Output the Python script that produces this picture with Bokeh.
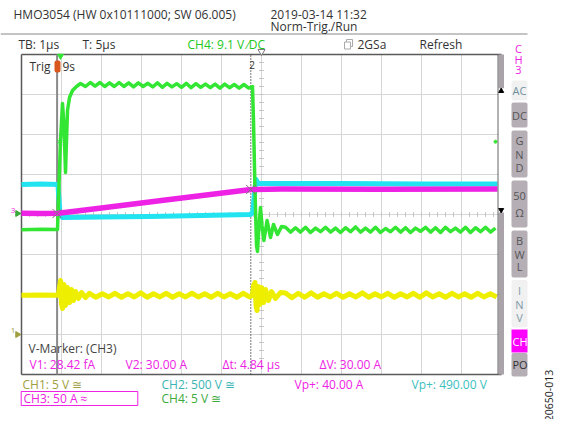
import numpy as np
from bokeh.plotting import figure
from bokeh.models import Range1d, Label
from bokeh.embed import file_html
from bokeh.resources import INLINE

FONT = "Open Sans"
FS = 12

# ---------------- scope settings ----------------
TIME_PER_DIV = 1.0                 # µs/div  (TB: 1µs)
CH1_SCALE, CH1_GND = 5.0, -3.0     # V/div, ground position [div]
CH2_SCALE, CH2_GND = 500.0, -0.1   # V/div
CH3_SCALE, CH3_GND = 50.0, 0.025   # A/div
CH4_SCALE, CH4_GND = 5.0, 0.0      # V/div
CH4_TRIG_LEVEL = 9.1               # V
CURSOR1_T, CURSOR2_T = -0.11, 4.73 # µs
V1_A, V2_A = 0.0, 30.0             # A

# ---------------- CH1 (yellow, V) ----------------
ch1_pre_t = [-1.0, -0.5, -0.08]
ch1_pre_v = [4.9, 4.95, 4.9]
ch1_spk1_t = [-0.05, -0.025, 0.0, 0.025, 0.0625, 0.1, 0.15, 0.2, 0.25, 0.3, 0.35, 0.425, 0.5, 0.6]
ch1_spk1_v = [5.875, 6.75, 3.875, 3.25, 6.25, 3.625, 5.875, 4.0, 5.625, 4.25, 5.375, 4.5, 5.25, 4.625]
ch1_ripA_t0, ch1_rip_dt = 0.7, 0.16
ch1_ripA_v = [5.15, 4.65, 5.1, 4.7, 5.15, 4.65, 5.1, 4.7, 5.2, 4.65,
              5.1, 4.7, 5.15, 4.65, 5.1, 4.7, 5.15, 4.7, 5.1, 4.65,
              5.15, 4.7, 5.1, 4.65, 5.15, 4.7]
ch1_spk2_t = [4.775, 4.8, 4.8375, 4.8625, 4.8875, 4.925, 4.9625, 5.0, 5.05, 5.1, 5.175, 5.25, 5.35, 5.475]
ch1_spk2_v = [4.9, 6.125, 6.5, 3.625, 3.0, 6.0, 3.75, 5.875, 4.0, 5.625, 4.25, 5.375, 4.5, 5.25]
ch1_ripB_t0 = 5.6
ch1_ripB_v = [5.2, 4.6, 5.15, 4.65, 5.2, 4.65, 5.1, 4.7, 5.15, 4.65,
              5.1, 4.7, 5.2, 4.65, 5.1, 4.7, 5.15, 4.65, 5.1, 4.7,
              5.15, 4.65, 5.2, 4.7, 5.1, 4.65, 5.15, 4.7, 5.1, 4.65,
              5.15, 4.7, 5.1, 4.7]

# ---------------- CH2 (cyan, V) ----------------
ch2_t = [-1.0, -0.5, -0.09, -0.06, -0.04, 0.025, 1.0, 2.2, 3.5, 4.72, 4.78, 4.82, 4.86, 4.92, 5.2, 7.0, 9.0, 10.9]
ch2_v = [425, 431, 425, 225, 50, 12, 19, 25, 38, 50, 75, 288, 488, 438, 438, 438, 431, 431]

# ---------------- CH3 (magenta, A) ----------------
ch3_t = [-1.0, -0.5, -0.08, 1.0, 2.5, 4.74, 5.5, 8.0, 10.9]
ch3_a = [0.3, 0.0, 0.3, 7.0, 16.2, 30.0, 30.6, 30.2, 30.5]

# ---------------- CH4 (green, V) ----------------
ch4_pre_t = [-1.0, -0.5, -0.1]
ch4_pre_v = [-1.9, -1.85, -1.875]
ch4_rise_t = [-0.075, -0.025, 0.025, 0.0625, 0.1, 0.125, 0.15, 0.2, 0.275, 0.375, 0.475]
ch4_rise_v = [1.75, 9.25, 13.875, 11.125, 5.25, 9.25, 13.0, 14.625, 15.5, 16.0, 16.375]
ch4_plat_t0, ch4_plat_dt = 0.6, 0.12
ch4_plat_v = [16.0, 16.5, 16.05, 16.5, 16.0, 16.45, 16.0, 16.5, 16.0, 16.45,
              15.95, 16.45, 16.0, 16.4, 15.95, 16.45, 15.9, 16.4, 15.95, 16.35,
              15.9, 16.4, 15.85, 16.35, 15.9, 16.3, 15.85, 16.3, 15.8, 16.3,
              15.85, 16.25, 15.8, 16.25, 15.8]
ch4_drop_t = [4.775, 4.8, 4.8375, 4.875, 4.9, 4.9375, 4.975, 5.0125, 5.06, 5.14, 5.225, 5.3, 5.4, 5.5]
ch4_drop_v = [16.0, 11.75, 3.0, -3.875, -4.625, -1.375, 0.875, -1.375, -3.25, -0.75, -2.875, -1.25, -2.5, -1.5]
ch4_post_t0, ch4_post_dt = 5.6, 0.125
ch4_post_v = [-1.6, -2.2, -1.65, -2.2, -1.6, -2.25, -1.7, -2.15, -1.6, -2.2,
              -1.7, -2.25, -1.65, -2.15, -1.55, -2.2, -1.7, -2.2, -1.6, -2.25,
              -1.75, -2.15, -1.6, -2.2, -1.65, -2.25, -1.7, -2.1, -1.6, -2.2,
              -1.65, -2.25, -1.6, -2.15, -1.7, -2.2, -1.6, -2.25, -1.65, -2.15,
              -1.6, -2.2, -1.7]

# ---------------- assemble series ----------------
def seq(t0, dt, vals):
    return list(t0 + dt * np.arange(len(vals)))

ch1_t = ch1_pre_t + ch1_spk1_t + seq(ch1_ripA_t0, ch1_rip_dt, ch1_ripA_v) + ch1_spk2_t + seq(ch1_ripB_t0, ch1_rip_dt, ch1_ripB_v)
ch1_v = ch1_pre_v + ch1_spk1_v + ch1_ripA_v + ch1_spk2_v + ch1_ripB_v
ch4_t = ch4_pre_t + ch4_rise_t + seq(ch4_plat_t0, ch4_plat_dt, ch4_plat_v) + ch4_drop_t + seq(ch4_post_t0, ch4_post_dt, ch4_post_v)
ch4_v = ch4_pre_v + ch4_rise_v + ch4_plat_v + ch4_drop_v + ch4_post_v

def div(vals, scale, gnd):
    return list(np.asarray(vals, dtype=float) / scale + gnd)

# ---------------- screen geometry (page px -> data) ----------------
T0_PX, Y0_PX, DIV_PX = 61.0, 214.0, 40.0
def X(px):
    return (px - T0_PX) / DIV_PX * TIME_PER_DIV
def Y(py):
    return (Y0_PX - py) / DIV_PX

W, H = 562, 419
YEL, CYA, MAG, GRN = "#eeee00", "#22e4f0", "#ee22e4", "#33e633"
GRID, BORDER = "#d6d6d6", "#5a5a5a"

p = figure(width=W, height=H, x_range=Range1d(X(0), X(W)), y_range=Range1d(Y(H), Y(0)),
           x_axis_type=None, y_axis_type=None, toolbar_location=None, output_backend="svg",
           min_border=0, outline_line_color=None, background_fill_color="white",
           border_fill_color="white", title=None)

# graticule
gx = list(np.arange(-1, 12) * TIME_PER_DIV)
gy = list(np.arange(-4, 5))
p.segment(x0=gx, y0=-4, x1=gx, y1=4, line_color=GRID, line_width=1)
p.segment(x0=-1, y0=gy, x1=11, y1=gy, line_color=GRID, line_width=1)
tx = list(np.arange(-1, 11.01, 0.2))
p.segment(x0=tx, y0=-0.06, x1=tx, y1=0.06, line_color="#c4c4c4", line_width=1)
ty = list(np.arange(-4, 4.01, 0.2))
p.segment(x0=4.94, y0=ty, x1=5.06, y1=ty, line_color="#c4c4c4", line_width=1)
p.segment(x0=[-1, -1, -1], y0=[-4, 4, -4], x1=[-1, 11, 11], y1=[4, 4, -4], line_color=BORDER, line_width=1.5)

# header separator
p.segment(x0=X(0), y0=Y(33.5), x1=X(527), y1=Y(33.5), line_color="#888888", line_width=1)

# cursors
p.segment(x0=CURSOR1_T, y0=-4, x1=CURSOR1_T, y1=4, line_color="#8a8a8a", line_width=2)
p.segment(x0=CURSOR2_T, y0=-4, x1=CURSOR2_T, y1=4, line_color="#444444", line_width=1.5, line_dash="1 2")

# traces
p.line(ch1_t, div(ch1_v, CH1_SCALE, CH1_GND), line_color=YEL, line_width=5, line_join="round")
p.line(ch2_t, div(ch2_v, CH2_SCALE, CH2_GND), line_color=CYA, line_width=5, line_join="round")
p.line(ch4_t, div(ch4_v, CH4_SCALE, CH4_GND), line_color=GRN, line_width=3.5, line_join="round")
p.line(ch3_t, div(ch3_a, CH3_SCALE, CH3_GND), line_color=MAG, line_width=5.5, line_join="round")

# cursor crossings
p.scatter([CURSOR1_T, CURSOR2_T], div([V1_A, V2_A], CH3_SCALE, CH3_GND), marker="x", size=13,
          line_color="#7a7a7a", line_width=1)
p.scatter([-0.05], div([CH4_TRIG_LEVEL], CH4_SCALE, CH4_GND), marker="x", size=7, line_color=GRN, line_width=1)
p.scatter([X(495)], div([CH4_TRIG_LEVEL], CH4_SCALE, CH4_GND), marker="circle", size=3, fill_color=GRN, line_color=GRN)

def box(x0, x1, y0, y1, fill, line=None, radius=0, width=1):
    p.quad(left=X(x0), right=X(x1), top=Y(y0), bottom=Y(y1), fill_color=fill,
           line_color=line, line_width=width, border_radius=radius)

def lab(px, py, text, color="#333333", size=FS, align="left", angle=0.0):
    p.add_layout(Label(x=X(px), y=Y(py), text=text, text_color=color, text_font=FONT,
                       text_font_size=f"{size}px", text_align=align, text_baseline="middle", angle=angle))

# scrollbar on the right edge of the graticule
box(498, 503.5, 54, 88, "#aaa3aa")
box(498, 503.5, 88, 212, "white")
box(498, 503.5, 212, 374, "#aaa3aa")
p.segment(x0=X(497.5), y0=Y(54), x1=X(497.5), y1=Y(374), line_color="#666666", line_width=1)
p.scatter([X(500.7)], [Y(90.5)], marker="triangle", size=5, fill_color="black", line_color="black")
p.scatter([X(500.7)], [Y(209.5)], marker="inverted_triangle", size=5, fill_color="black", line_color="black")

# top markers
p.scatter([X(60)], [Y(55.5)], marker="inverted_triangle", size=6, fill_color=GRN, line_color=GRN)
p.scatter([X(261)], [Y(51)], marker="inverted_triangle", size=7, fill_color="white", line_color="#777777")

# left ground markers
p.scatter([X(17)], [Y(213)], marker="triangle", angle=-np.pi / 2, size=6, fill_color="#3aa83a", line_color="#3aa83a")
p.scatter([X(17)], [Y(334)], marker="triangle", angle=-np.pi / 2, size=6, fill_color="#a0a040", line_color="#a0a040")
lab(12.5, 210, "3", MAG, 8, "center")
lab(12.5, 330, "1", "#a0a040", 8, "center")

# trigger / cursor label
box(54, 60, 60, 72, "#d9561c", None, 2)
lab(29, 66, "Trig", "#333333")
lab(62, 66, "9s", "#333333")
lab(251.5, 64, "2", "#333333", 10, "center")

# header texts
lab(13, 13.5, "HMO3054 (HW 0x10111000; SW 06.005)")
lab(270, 13.5, "2019-03-14 11:32")
lab(270, 25.5, "Norm-Trig./Run")
lab(18, 43.5, "TB: 1µs")
lab(82, 43.5, "T: 5µs")
lab(187, 43.5, "CH4: 9.1 V ⁄DC", "#22c822")
box(346, 352, 39, 46, None, "#aaaaaa")
box(344, 350, 41.5, 48.5, "white", "#aaaaaa")
lab(357, 43.5, "2GSa")
lab(419, 43.5, "Refresh")

# right channel menu
lab(518, 48, "C", MAG, 11, "center")
lab(518, 59, "H", MAG, 11, "center")
lab(518, 69.5, "3", MAG, 11, "center")
BTN, BTN_L, BTN_T = "#b5aeb5", "#f1f1f1", "#555555"
box(511, 527, 80, 100, BTN_L, None, 2)
lab(519, 90, "AC", "#6f8f9f", 11, "center")
box(511, 527, 102, 127, BTN, None, 2)
lab(519, 114.5, "DC", BTN_T, 11, "center")
box(511, 527, 130, 177, BTN, None, 2)
for yy, ch in zip([140, 153.5, 167], "GND"):
    lab(519, yy, ch, BTN_T, 11, "center")
box(511, 527, 180, 227, BTN, None, 2)
lab(519, 195, "50", BTN_T, 11, "center")
lab(519, 212, "Ω", BTN_T, 11, "center")
box(511, 527, 230, 277, BTN, None, 2)
for yy, ch in zip([240, 253.5, 266], "BWL"):
    lab(519, yy, ch, BTN_T, 11, "center")
box(511, 527, 279.5, 327, BTN_L, None, 2)
for yy, ch in zip([290, 304, 317], "INV"):
    lab(519, yy, ch, "#7f9aaa", 11, "center")
box(511, 527, 329, 352, "#ff00ff")
lab(512, 340.5, "CH", "white", 11, "left")
box(511, 527, 352.5, 376, BTN, None, 2)
lab(512, 364, "PO", "#333333", 11, "left")

# bottom read-outs
lab(28, 347.5, "V-Marker: (CH3)", "#444444")
lab(29, 363.5, "V1: 28.42 fA", MAG)
lab(125, 363.5, "V2: 30.00 A", MAG)
lab(222, 363.5, "Δt: 4.84 µs", MAG)
lab(319, 363.5, "ΔV: 30.00 A", MAG)
lab(22, 383.5, "CH1: 5 V ≅", "#a0a040")
lab(161, 383.5, "CH2: 500 V ≅", "#3cb4b4")
lab(294, 383.5, "Vp+: 40.00 A", MAG)
lab(411, 383.5, "Vp+: 490.00 V", "#3cc0c0")
box(20.7, 137.3, 391, 405, None, MAG, 0, 1)
lab(23, 398, "CH3: 50 A ≈", MAG)
lab(161, 398, "CH4: 5 V ≅", "#3caa3c")
lab(548, 395, "20650-013", "#222222", 10.5, "center", np.pi / 2)

open("out.html", "w").write(file_html(p, INLINE))
